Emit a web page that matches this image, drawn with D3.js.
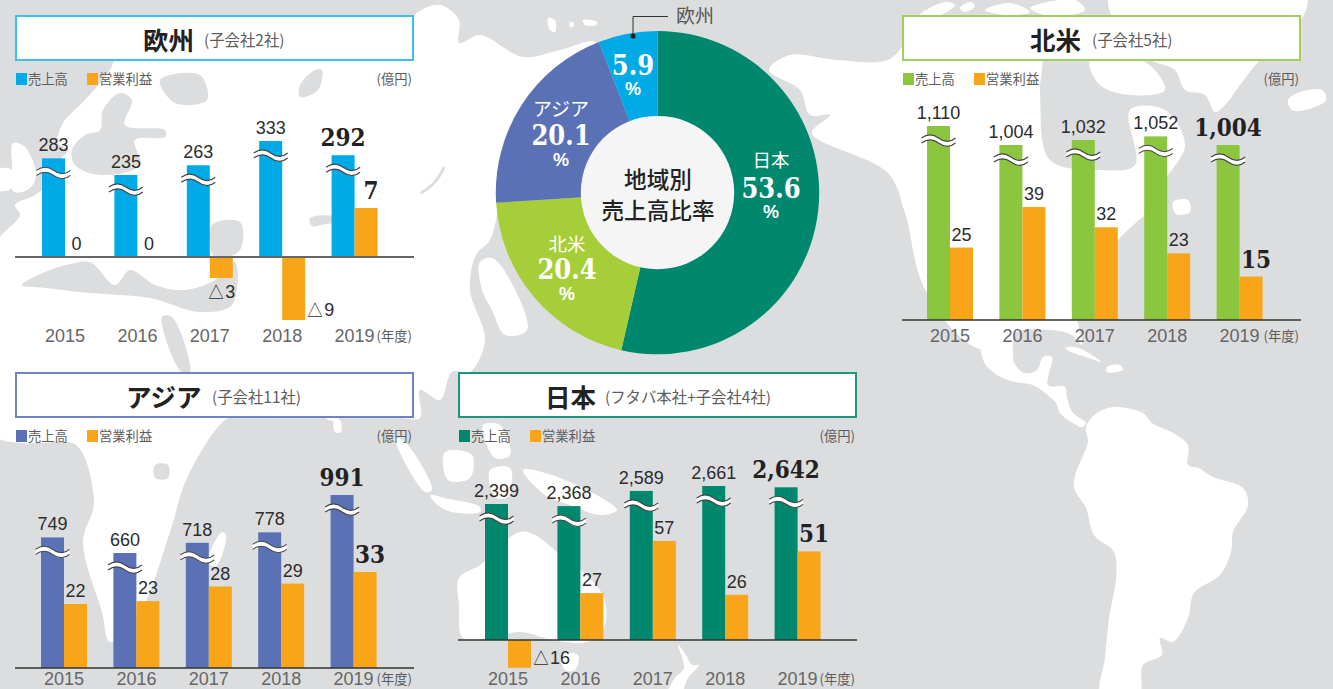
<!DOCTYPE html>
<html lang="ja"><head><meta charset="utf-8">
<script src="https://cdn.jsdelivr.net/npm/d3@7/dist/d3.min.js"></script>
<style>
html,body{margin:0;padding:0;background:#dcddde;overflow:hidden}
svg{display:block}
text{font-family:"Noto Sans CJK JP","Noto Sans",sans-serif}
.num{font-family:"Liberation Sans",Arial,sans-serif;font-size:18px;fill:#2c2c2c}
.numb{font-family:"DejaVu Serif Condensed","DejaVu Serif",serif;font-stretch:condensed;font-weight:700;font-size:24px;fill:#222}
.yr text{font-family:"Liberation Sans",Arial,sans-serif;font-size:18px;fill:#666}
.lg{font-size:13.3px;fill:#5c5c5c}
</style></head><body><div id="chart"></div>
<script>
// ---------- data ----------
const years = ["2015","2016","2017","2018","2019"];
const europeSales  = [283,235,263,333,292];
const europeProfit = [0,0,-3,-9,7];
const namericaSales  = [1110,1004,1032,1052,1004];
const namericaProfit = [25,39,32,23,15];
const asiaSales  = [749,660,718,778,991];
const asiaProfit = [22,23,28,29,33];
const japanSales  = [2399,2368,2589,2661,2642];
const japanProfit = [-16,27,57,26,51];
const shareRegions = ["日本","北米","アジア","欧州"];
const shareValues  = [53.6,20.4,20.1,5.9];
const shareColors  = ["#00886e","#a6ce39","#5b71b6","#00aae7"];
const legendNames = ["売上高","営業利益"];
const profitColor = "#f9a51a";

// ---------- panel layout ----------
const panels = [
 {title:"欧州",sub:"(子会社2社)",tx:143,sx:204,box:[16,16],border:"#3cbfed",color:"#00aae7",first:65,base:257,axisColor:"#666",axisW:2,yearY:342,
  sales:europeSales,profit:europeProfit,sd:[235,333],sr:[175,141],pd:[0,7],pr:[257,208],orangeX:87},
 {title:"北米",sub:"(子会社5社)",tx:1030,sx:1092,box:[903,16],border:"#a0cf5f",color:"#8cc63f",first:950,base:320,axisColor:"#333",axisW:1.5,yearY:342,
  sales:namericaSales,profit:namericaProfit,sd:[1004,1110],sr:[145,126],pd:[0,39],pr:[320,207],orangeX:974},
 {title:"アジア",sub:"(子会社11社)",tx:126,sx:212,box:[16,373],border:"#6f84c4",color:"#5b71b6",first:64,base:668,axisColor:"#333",axisW:1.5,yearY:685,
  sales:asiaSales,profit:asiaProfit,sd:[660,991],sr:[553,495],pd:[0,33],pr:[668,572],orangeX:87},
 {title:"日本",sub:"(フタバ本社+子会社4社)",tx:545,sx:605,box:[459,373],border:"#1e957f",color:"#00886e",first:508,base:640,axisColor:"#333",axisW:1.5,yearY:685,
  sales:japanSales,profit:japanProfit,sd:[2399,2661],sr:[504,486],pd:[0,57],pr:[640,541],orangeX:530}
];
const BW=23, STEP=72.4, PW=397, PH=44;

// ---------- background map (decoration, rough coastlines in page pixels) ----------
const land = [
 [[58,143],[63,123],[85,100],[110,70],[125,40],[200,45],[300,50],[405,45],[415,15],[440,5],[459,20],[459,43],[480,35],[523,57],[560,50],[597,43],[597,120],[510,160],[500,200],[490,240],[476,255],[470,290],[485,340],[470,372],[452,372],[440,400],[420,390],[420,418],[400,418],[345,416],[332,421],[320,416],[240,416],[225,420],[187,478],[170,532],[140,612],[110,642],[102,612],[83,542],[94,502],[76,445],[40,443],[21,443],[-5,435],[-5,310],[-5,245],[20,215],[15,205],[35,195],[56,178],[60,160],[68,150]],
 [[13,143],[25,147],[36,175],[30,188],[14,192],[12,165]],
 [[-5,170],[12,170],[12,188],[-5,190]],
 [[480,262],[492,258],[510,280],[527,330],[505,335],[492,310],[482,290]],
 [[208,562],[222,532],[226,535],[216,566]],
 [[334,420],[340,420],[341,432],[335,432]],
 [[395,438],[405,442],[432,490],[425,492]],
 [[445,452],[472,455],[470,478],[448,480]],
 [[490,470],[510,468],[508,497],[495,497]],
 [[430,495],[445,498],[480,507],[480,512],[445,510]],
 [[483,425],[500,425],[510,455],[495,458]],
 [[523,470],[560,478],[617,510],[600,515],[570,505],[545,495]],
 [[459,578],[480,565],[519,532],[535,535],[557,552],[583,572],[604,598],[604,628],[587,642],[553,640],[520,632],[489,638],[463,638],[459,605]],
 [[562,655],[578,655],[575,670],[565,670]],
 [[678,645],[686,655],[692,665],[699,665],[688,678],[680,695],[667,695],[675,678],[684,668]],
 [[548,18],[555,20],[555,32],[550,30]],[[570,22],[574,23],[573,27],[570,27]],[[583,20],[597,22],[596,25],[585,25]],
 // North America
 [[769,70],[790,55],[837,60],[888,60],[905,43],[915,30],[1000,25],[1040,50],[1040,95],[1050,160],[1100,170],[1135,165],[1130,110],[1165,110],[1185,145],[1165,180],[1150,210],[1139,220],[1118,240],[1092,277],[1075,297],[1082,345],[1072,335],[1050,330],[1015,333],[1011,350],[982,350],[956,333],[922,283],[905,213],[888,173],[812,133],[830,115],[810,115],[800,90]],
 [[1090,60],[1145,62],[1165,90],[1130,95],[1100,85]],
 [[1173,202],[1188,200],[1190,212],[1176,214]],
 [[982,345],[984,362],[994,373],[1011,381],[1033,385],[1045,393],[1056,403],[1060,413],[1073,423],[1082,427],[1086,423],[1073,413],[1067,398],[1065,387],[1048,385],[1052,357],[1043,357],[1037,370],[1024,373],[1014,362],[1011,345]],
 [[1065,348],[1075,347],[1092,355],[1101,362],[1086,357],[1071,352]],
 [[1107,367],[1120,365],[1123,370],[1107,372]],
 // South America
 [[1086,427],[1088,442],[1082,458],[1076,472],[1074,488],[1086,508],[1094,535],[1114,552],[1116,578],[1109,618],[1105,658],[1101,695],[1139,695],[1143,665],[1162,655],[1160,638],[1173,642],[1188,618],[1194,593],[1220,575],[1231,552],[1233,532],[1248,505],[1243,488],[1213,477],[1199,468],[1188,465],[1188,445],[1173,433],[1152,423],[1143,413],[1114,407],[1097,413]],
 // Greenland, Iceland, arctic islands
 [[1110,-5],[1306,-5],[1295,30],[1260,60],[1240,85],[1225,105],[1215,112],[1205,95],[1185,90],[1175,70],[1150,60],[1125,40]],
 [[1288,100],[1300,92],[1322,90],[1326,100],[1305,110],[1292,110]],
 [[920,15],[945,2],[955,5],[935,17]],[[960,8],[970,2],[975,6],[965,12]],[[985,10],[1010,3],[1030,12],[1005,15]],[[1030,8],[1075,0],[1085,10],[1050,16]]
];
const seas = [
 [[120,93],[132,100],[125,125],[165,130],[165,137],[135,140],[140,165],[100,175],[75,165],[72,150],[85,135],[100,130],[103,110]],
 [[22,285],[45,272],[70,264],[90,262],[115,285],[130,270],[155,285],[185,290],[215,280],[235,262],[232,305],[200,312],[150,298],[90,293],[45,288]],
 [[212,225],[240,222],[240,250],[215,258]],
 [[162,317],[172,317],[190,373],[182,373]],
 [[160,80],[200,75],[207,100],[175,103]],
 [[300,85],[315,70],[322,70],[318,90],[300,97]],
 [[310,218],[338,218],[340,238],[332,224],[312,226]],
 [[155,465],[168,465],[168,478],[155,478]]
];
const baikal = [[421,193],[432,185],[440,175],[444,167]];

// ---------- draw ----------
const W=1333,H=689;
const svg=d3.select("#chart").append("svg").attr("width",W).attr("height",H);
svg.append("rect").attr("width",W).attr("height",H).attr("fill","#dcddde");
const blob=d3.line().curve(d3.curveCatmullRomClosed.alpha(0.5));
const map=svg.append("g");
map.selectAll("path.l").data(land).join("path").attr("class","l").attr("d",blob).attr("fill","#fff");
map.selectAll("path.s").data(seas).join("path").attr("class","s").attr("d",blob).attr("fill","#dcddde");
map.append("path").attr("d",d3.line().curve(d3.curveCatmullRom)(baikal)).attr("fill","none").attr("stroke","#dcddde").attr("stroke-width",3);

panels.forEach(p=>{
 const g=svg.append("g");
 const [bx,by]=p.box;
 g.append("rect").attr("x",bx).attr("y",by).attr("width",PW).attr("height",PH).attr("fill","#fff").attr("stroke",p.border).attr("stroke-width",2);
 const tb=by+33.5, sb=by+30;
 g.append("text").attr("x",p.tx).attr("y",tb).attr("font-size",25.5).attr("font-weight",700).attr("fill","#222").text(p.title);
 g.append("text").attr("x",p.sx).attr("y",sb).attr("font-size",15.4).attr("fill","#5c5c5c").text(p.sub);
 // legend
 const ly=by+57;
 const legendX=[bx,p.orangeX];
 legendNames.forEach((n,i)=>{
  g.append("rect").attr("x",legendX[i]).attr("y",ly).attr("width",11).attr("height",12).attr("fill",i?profitColor:p.color);
  g.append("text").attr("class","lg").attr("x",legendX[i]+12).attr("y",ly+11).text(n);
 });
 g.append("text").attr("class","lg").attr("x",bx+396).attr("y",ly+11).attr("text-anchor","end").text("(億円)");

 // scales
 const x=d3.scaleBand().domain(years).range([p.first-STEP/2,p.first+STEP*4.5]);
 const yS=d3.scaleLinear().domain(p.sd).range(p.sr);
 const yP=d3.scaleLinear().domain(p.pd).range(p.pr);
 const cx=d=>x(d)+x.bandwidth()/2;
 const rows=years.map((yr,i)=>({yr,i,s:p.sales[i],v:p.profit[i]}));

 g.selectAll("rect.sales").data(rows).join("rect").attr("class","sales")
  .attr("x",d=>cx(d.yr)-BW).attr("width",BW).attr("y",d=>yS(d.s)).attr("height",d=>p.base-yS(d.s)).attr("fill",p.color);
 g.selectAll("rect.profit").data(rows.filter(d=>d.v!==0)).join("rect").attr("class","profit")
  .attr("x",d=>cx(d.yr)).attr("width",BW)
  .attr("y",d=>Math.min(yP(d.v),p.base)).attr("height",d=>Math.abs(yP(d.v)-p.base)).attr("fill",profitColor);

 // break marks
 const brk=g.selectAll("g.brk").data(rows).join("g").attr("class","brk")
   .attr("transform",d=>`translate(${cx(d.yr)-BW/2},${yS(d.s)+15})`);
 brk.append("path").attr("d","M-17,-3 C-10,-8 -4,-6 0,-3 S10,3 17,-3 L17,2 C10,8 4,5 0,2 S-10,-3 -17,2 Z").attr("fill","#fff");
 brk.append("path").attr("d","M-17,-3 C-10,-8 -4,-6 0,-3 S10,3 17,-3").attr("fill","none").attr("stroke","#444").attr("stroke-width",1.1);
 brk.append("path").attr("d","M-17,2 C-10,-3 -4,-1 0,2 S10,8 17,2").attr("fill","none").attr("stroke","#444").attr("stroke-width",1.1);

 // baseline
 g.append("line").attr("x1",bx-1).attr("x2",bx+398).attr("y1",p.base).attr("y2",p.base).attr("stroke",p.axisColor).attr("stroke-width",p.axisW);

 // value labels
 const fmt=d3.format(",");
 g.selectAll("text.sv").data(rows).join("text")
  .attr("text-anchor","middle").attr("x",d=>cx(d.yr)-BW/2)
  .attr("y",d=>yS(d.s)-(d.i===4?9:7))
  .attr("class",d=>d.i===4?"numb":"num").text(d=>fmt(d.s));
 g.selectAll("text.pv").data(rows).join("text")
  .attr("class",d=>d.i===4?"numb":"num")
  .attr("text-anchor",d=>(d.v<=-5)?"start":"middle")
  .attr("x",d=>d.v<=-5?cx(d.yr)+BW+1:cx(d.yr)+BW/2+(d.i===4?5:0))
  .attr("y",d=>d.v<0?(d.v<=-5?yP(d.v)-4:yP(d.v)+20):yP(d.v)-(d.i===4?9:7))
  .text(d=>d.v<0?"△"+Math.abs(d.v):d.v);

 // category axis
 const ax=g.append("g").attr("class","yr").attr("transform",`translate(0,${p.yearY-14})`)
   .call(d3.axisBottom(x).tickSize(0).tickPadding(0));
 ax.select(".domain").remove();
 ax.selectAll("text").attr("dy",null).attr("y",14).attr("font-family",null).attr("font-size",null);
 g.append("text").attr("class","lg").attr("x",bx+396).attr("y",p.yearY-1).attr("text-anchor","end").text("(年度)");
});

// ---------- donut ----------
const cx0=657.5, cy0=192.6, R=161.7, r0=76.7;
const pie=d3.pie().sort(null).value(d=>d)(shareValues);
const arc=d3.arc().innerRadius(0).outerRadius(R);
const dn=svg.append("g").attr("transform",`translate(${cx0},${cy0})`);
dn.selectAll("path").data(pie).join("path").attr("d",arc).attr("fill",(d,i)=>shareColors[i]);
dn.append("circle").attr("r",r0).attr("fill","#f5f5f5");
const centerLines=["地域別","売上高比率"];
centerLines.forEach((t,i)=>dn.append("text").attr("text-anchor","middle").attr("x",0.5).attr("y",-4.5+i*30.5)
  .attr("font-size",22.6).attr("font-weight",500).attr("fill","#222").text(t));
const labelAt=[[771,167,198,218],[567,251,279,300],[561,116,145,166],[633,null,75,95]];
shareRegions.forEach((n,i)=>{
 const [lx,a,b,c]=labelAt[i];
 if(a!==null) svg.append("text").attr("text-anchor","middle").attr("x",lx).attr("y",a).attr("font-size",i==2?19:18.5).attr("fill","#fff").text(n);
 svg.append("text").attr("class","numb").attr("text-anchor","middle").attr("x",lx).attr("y",b)
   .style("font-size","27px").style("fill","#fff").text(d3.format(".1f")(shareValues[i]));
 svg.append("text").attr("text-anchor","middle").attr("x",lx).attr("y",c).style("font-family","Liberation Sans").style("font-weight",700)
   .attr("font-size",18).attr("fill","#fff").text("%");
});
// callout
svg.append("path").attr("d","M633,36 V16.5 H668").attr("fill","none").attr("stroke","#333").attr("stroke-width",1);
svg.append("circle").attr("cx",633).attr("cy",36).attr("r",2.6).attr("fill","#222");
svg.append("text").attr("x",676).attr("y",23).attr("font-size",19).attr("fill","#555").text(shareRegions[3]);
</script></body></html>
